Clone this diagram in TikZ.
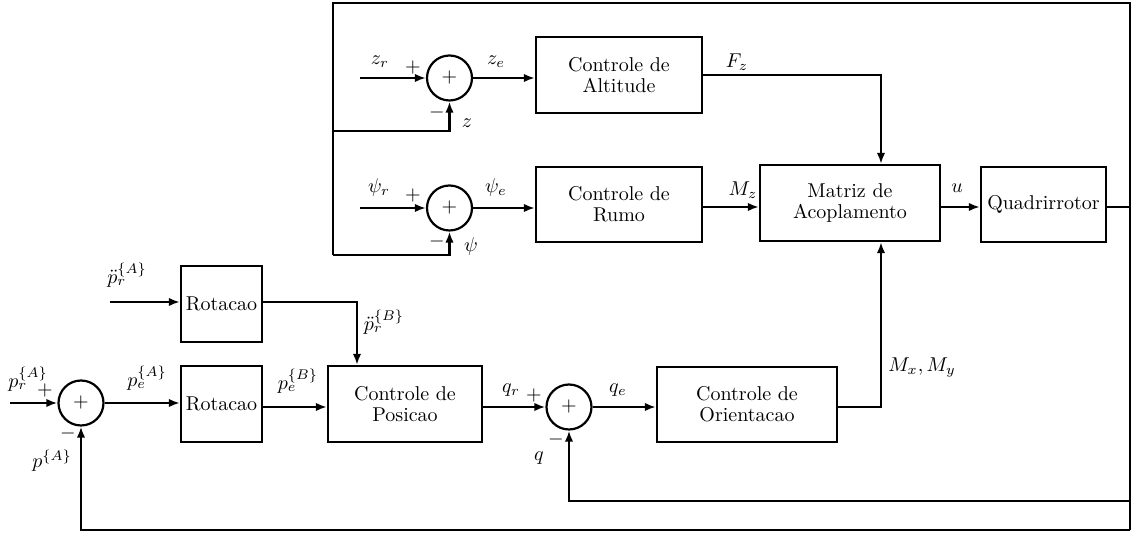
\documentclass[tikz,border=0pt]{standalone}
\usepackage{amsmath}
\usetikzlibrary{arrows.meta}
\begin{document}
\begin{tikzpicture}[x=0.5pt,y=-0.5pt,line width=1.1pt,
  blk/.style={draw,align=center,inner sep=1pt,font=\fontsize{10}{10.5}\selectfont},
  sumn/.style={draw,circle,minimum size=22.5pt,inner sep=0pt},
  arr/.style={-{Latex[length=5.5pt,width=4.2pt]}},
  lbl/.style={inner sep=0pt}]
\useasboundingbox (0,0) rectangle (1132,533);
% blocks
\node[blk,minimum width=83pt,minimum height=38pt] (alt) at (619,75) {Controle de\\Altitude};
\node[blk,minimum width=83pt,minimum height=37.5pt] (rumo) at (619,204.5) {Controle de\\Rumo};
\node[blk,minimum width=90pt,minimum height=38pt] (mat) at (850,203) {Matriz de\\Acoplamento};
\node[blk,minimum width=62.5pt,minimum height=37.5pt] (quad) at (1043.5,204.5) {Quadrirrotor};
\node[blk,minimum width=40.5pt,minimum height=38pt] (rot1) at (221.5,304) {Rotacao};
\node[blk,minimum width=40.5pt,minimum height=38pt] (rot2) at (221.5,404) {Rotacao};
\node[blk,minimum width=77pt,minimum height=38pt] (pos) at (405,404) {Controle de\\Posicao};
\node[blk,minimum width=90pt,minimum height=37.5pt] (ori) at (747,404.5) {Controle de\\Orientacao};
% sums
\node[sumn] (s1) at (449.5,78) {$+$};
\node[sumn] (s2) at (449.5,208) {$+$};
\node[sumn] (s3) at (81,403) {$+$};
\node[sumn] (s4) at (569,407) {$+$};
% coordinates
\coordinate (zin) at (360,78);
\coordinate (psin) at (360,208);
\coordinate (ddpin) at (110,302);
\coordinate (pin) at (10,403);
\coordinate (TR) at (1130,3);
\coordinate (TL) at (333,3);
\coordinate (LB) at (333,255);
\coordinate (Z1) at (333,131);
\coordinate (R) at (1130,207);
\coordinate (BR) at (1130,530);
\coordinate (IR) at (1130,501);
% connectors upper
\draw[arr] (zin) -- (s1.west);
\draw[arr] (s1.east) -- (s1.east -| alt.west);
\draw[arr] (alt.east) -| ([xshift=15.5pt]mat.north);
\draw[arr] (psin) -- (s2.west);
\draw[arr] (s2.east) -- (s2.east -| rumo.west);
\draw[arr] ([yshift=-1.25pt]rumo.east) -- ([yshift=-1.25pt]rumo.east -| mat.west);
\draw[arr] ([yshift=-2pt]mat.east) -- ([yshift=-2pt]mat.east -| quad.west);
\draw ([yshift=-1.25pt]quad.east) -- (R);
\draw (BR) -- (TR) -- (TL) -- (LB);
\draw[arr] (LB) -| (s2.south);
\draw[arr] (Z1) -| (s1.south);
\draw[arr] (IR) -| (s4.south);
\draw[arr] (BR) -| (s3.south);
% connectors lower
\draw[arr] (ddpin) -- (ddpin -| rot1.west);
\draw[arr] ([yshift=1pt]rot1.east) -| ([xshift=-24pt]pos.north);
\draw[arr] (pin) -- (s3.west);
\draw[arr] (s3.east) -- (s3.east -| rot2.west);
\draw[arr] ([yshift=-1.5pt]rot2.east) -- ([yshift=-1.5pt]rot2.east -| pos.west);
\draw[arr] ([yshift=-1.5pt]pos.east) -- (s4.west);
\draw[arr] (s4.east) -- (s4.east -| ori.west);
\draw[arr] ([yshift=-1.25pt]ori.east) -| ([xshift=15.5pt]mat.south);
% labels
\node[lbl] (lzr) at (380,62) {$z_r$};
\node[lbl] (lp1) at (413,68) {$+$};
\node[lbl] (lm1) at (437,113) {$-$};
\node[lbl] (lz) at (467,123) {$z$};
\node[lbl] (lze) at (496,62) {$z_e$};
\node[lbl] (lfz) at (737,62) {$F_z$};
\node[lbl] (lpsr) at (379,188) {$\psi_r$};
\node[lbl] (lp2) at (413,196) {$+$};
\node[lbl] (lm2) at (437,242) {$-$};
\node[lbl] (lps) at (471,247) {$\psi$};
\node[lbl] (lpse) at (496,188) {$\psi_e$};
\node[lbl] (lmz) at (743,190) {$M_z$};
\node[lbl] (lu) at (957,188) {$u$};
\node[lbl] (lddpa) at (127,275) {$\ddot{p}_r^{\{A\}}$};
\node[lbl] (lddpb) at (384,322) {$\ddot{p}_r^{\{B\}}$};
\node[lbl] (lpra) at (28,379) {$p_r^{\{A\}}$};
\node[lbl] (lp3) at (45,391) {$+$};
\node[lbl] (lm3) at (68,434) {$-$};
\node[lbl] (lpa) at (52,461) {$p^{\{A\}}$};
\node[lbl] (lpea) at (147,378) {$p_e^{\{A\}}$};
\node[lbl] (lpeb) at (298,381) {$p_e^{\{B\}}$};
\node[lbl] (lqr) at (511,390) {$q_r$};
\node[lbl] (lp4) at (534,396) {$+$};
\node[lbl] (lqe) at (618,390) {$q_e$};
\node[lbl] (lm4) at (556,440) {$-$};
\node[lbl] (lq) at (539,458) {$q$};
\node[lbl] (lmxy) at (922,368) {$M_x,M_y$};
\end{tikzpicture}
\end{document}
